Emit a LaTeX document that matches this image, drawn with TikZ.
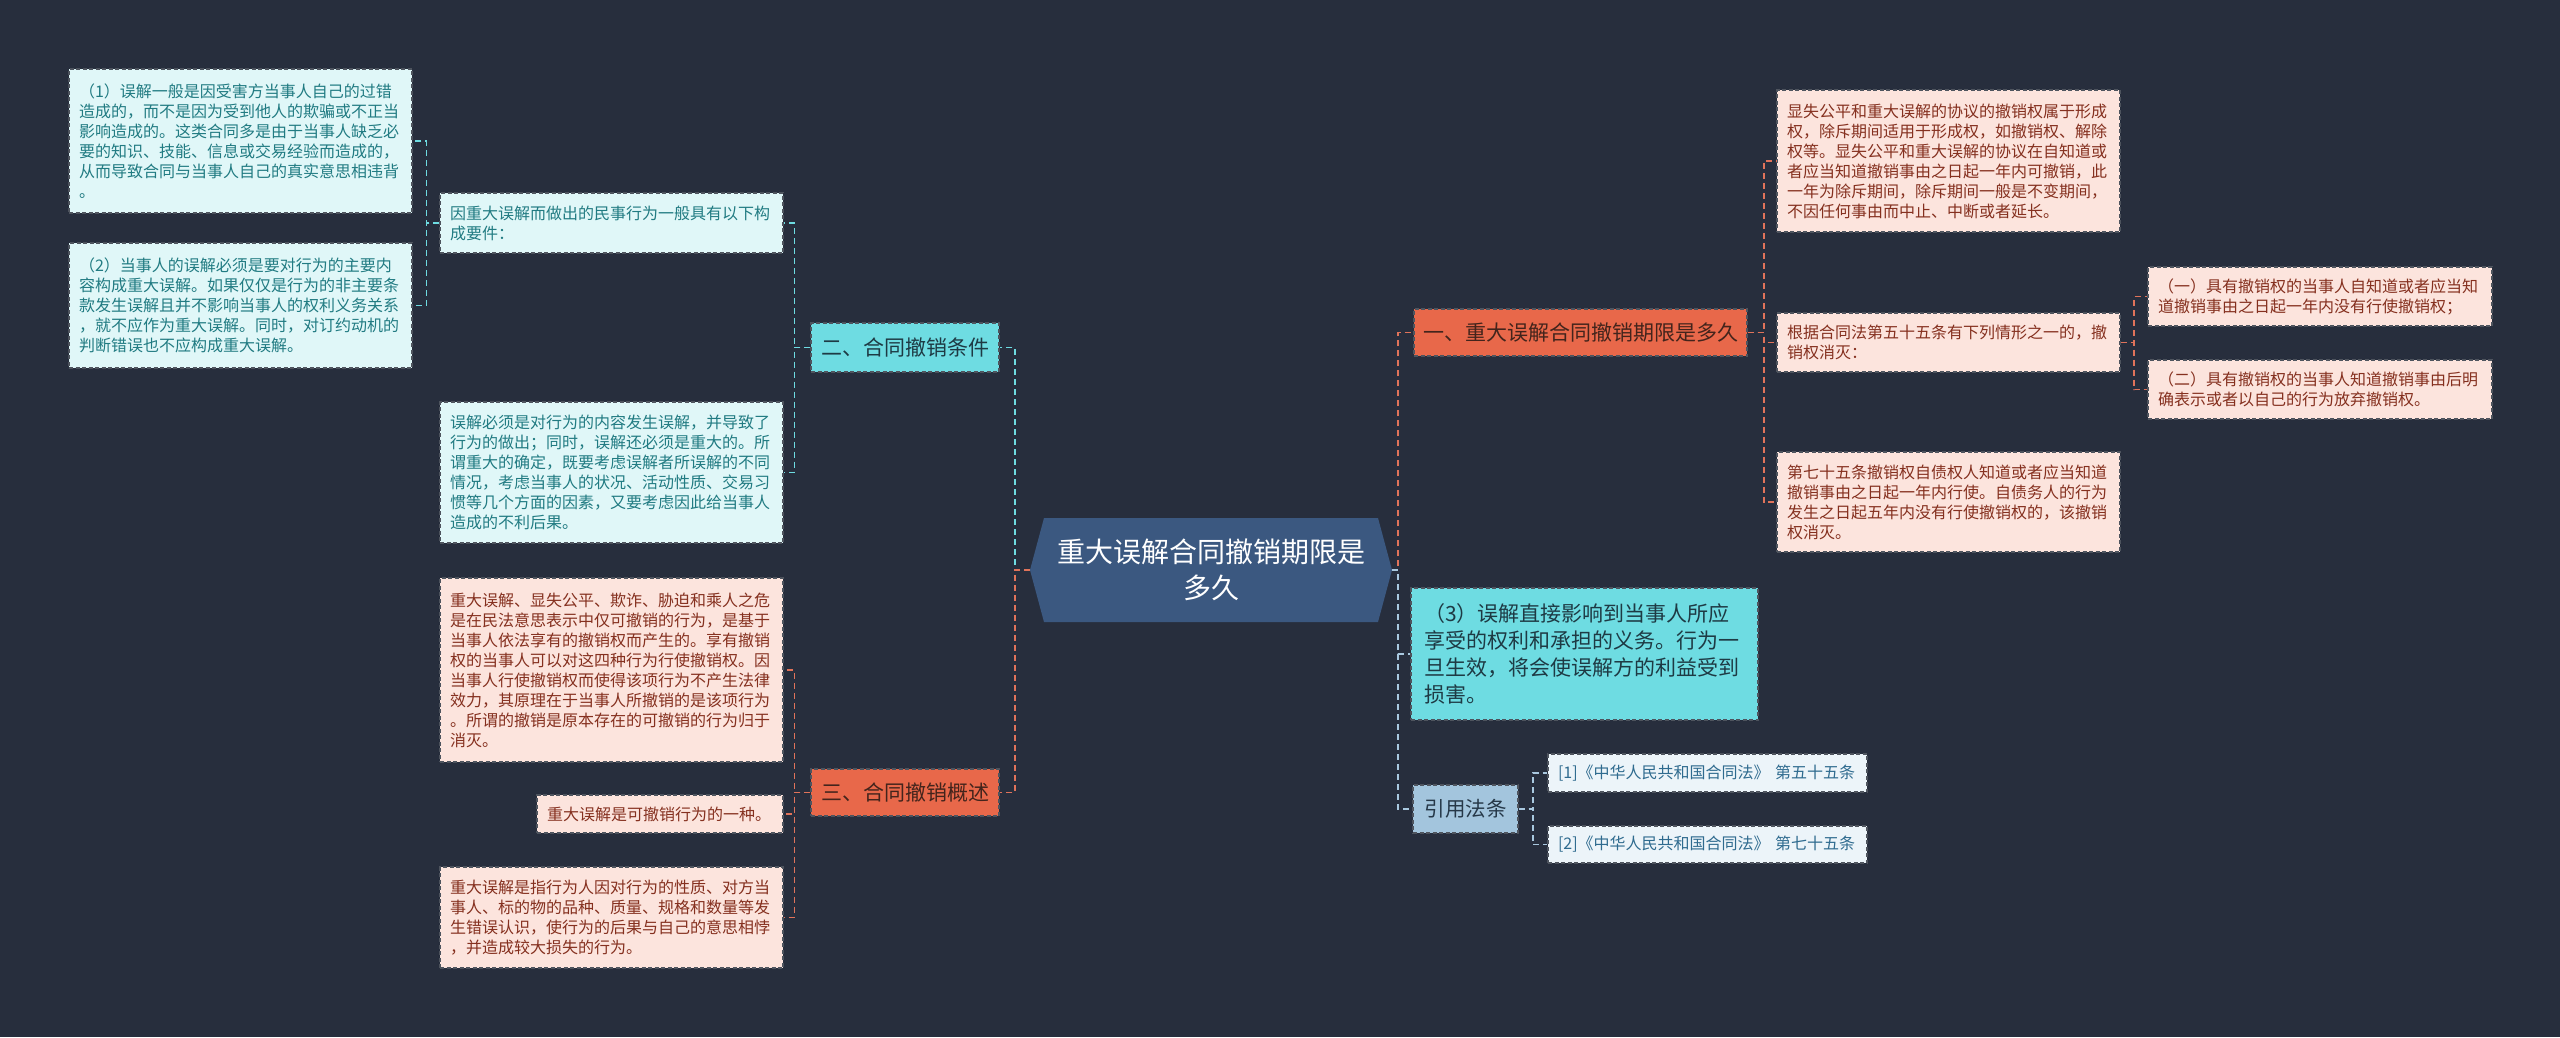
\documentclass[tikz,border=0pt]{standalone}
\usepackage{fontspec}
\newfontfamily\cjk{Noto Sans CJK SC}
\definecolor{bg}{HTML}{272E3D}
\definecolor{centerfill}{HTML}{3B5880}
\definecolor{ofill}{HTML}{E8684A}
\definecolor{cfill}{HTML}{6EDCE2}
\definecolor{bfill}{HTML}{A3C5DD}
\definecolor{cleaffill}{HTML}{E0F7F8}
\definecolor{cleaftext}{HTML}{217B82}
\definecolor{pleaffill}{HTML}{FCE4DD}
\definecolor{pleaftext}{HTML}{85301F}
\definecolor{qfill}{HTML}{ECF4F9}
\definecolor{qtext}{HTML}{2F6B8F}
\definecolor{bord}{HTML}{4E545E}
\definecolor{otext}{HTML}{43241C}
\definecolor{ctext}{HTML}{1E3A44}
\definecolor{btext}{HTML}{263848}
\definecolor{oline}{HTML}{E0735A}
\definecolor{cline}{HTML}{6EDCE2}
\definecolor{bline}{HTML}{A9C8DF}
\tikzset{
  box/.style={draw=bord, dash pattern=on 4pt off 2.5pt, line width=1.2pt, inner xsep=10pt, inner ysep=0pt, font=\cjk\fontsize{16}{20}\selectfont, align=left},
  cleaf/.style={box, fill=cleaffill, text=cleaftext},
  pleaf/.style={box, fill=pleaffill, text=pleaftext},
  qleaf/.style={box, fill=qfill, text=qtext},
  branch/.style={draw=bord, dash pattern=on 4pt off 2.5pt, line width=1.2pt, inner sep=0pt, font=\cjk\fontsize{21}{27}\selectfont, align=center},
  conn/.style={dash pattern=on 6pt off 4pt, line width=1.8pt},
  ocon/.style={conn, draw=oline},
  ccon/.style={conn, draw=cline},
  bcon/.style={conn, draw=bline},
}
\begin{document}
\begin{tikzpicture}[x=1pt,y=-1pt]
\fill[bg] (0,0) rectangle (2560,1037);
\useasboundingbox (0,0) rectangle (2560,1037);

% center
\fill[centerfill] (1030,570) -- (1044,518) -- (1378,518) -- (1392,570) -- (1378,622) -- (1044,622) -- cycle;
\node[minimum width=362pt, minimum height=104pt, inner sep=0pt, text=white, align=center, font=\cjk\fontsize{28}{36}\selectfont] (c) at (1211,570) {重大误解合同撤销期限是\\多久};

% branches
\node[branch, fill=ofill, text=otext, minimum width=333pt, minimum height=47pt] (b1) at (1580.5,332.5) {一、重大误解合同撤销期限是多久};
\node[branch, fill=cfill, text=ctext, minimum width=188pt, minimum height=49pt] (b2) at (905,347.5) {二、合同撤销条件};
\node[branch, fill=ofill, text=otext, minimum width=188pt, minimum height=47pt] (b4) at (905,792.5) {三、合同撤销概述};
\node[branch, fill=cfill, text=ctext, minimum width=347pt, minimum height=132pt, text width=321pt, inner xsep=13pt, align=left] (b3) at (1584.5,654) {（3）误解直接影响到当事人所应\\享受的权利和承担的义务。行为一\\旦生效，将会使误解方的利益受到\\损害。};
\node[branch, fill=bfill, text=btext, minimum width=105pt, minimum height=48pt, font=\cjk\fontsize{20.5}{26}\selectfont] (cite) at (1465.5,809) {引用法条};

% left leaves
\node[cleaf, text width=323pt, minimum height=144pt] (l1) at (240.5,141) {（1）误解一般是因受害方当事人自己的过错\\造成的，而不是因为受到他人的欺骗或不正当\\影响造成的。这类合同多是由于当事人缺乏必\\要的知识、技能、信息或交易经验而造成的，\\从而导致合同与当事人自己的真实意思相违背\\。};
\node[cleaf, text width=323pt, minimum height=125pt] (l2) at (240.5,305.5) {（2）当事人的误解必须是要对行为的主要内\\容构成重大误解。如果仅仅是行为的非主要条\\款发生误解且并不影响当事人的权利义务关系\\，就不应作为重大误解。同时，对订约动机的\\判断错误也不应构成重大误解。};
\node[cleaf, text width=323pt, minimum height=60pt] (p1) at (611.5,223) {因重大误解而做出的民事行为一般具有以下构\\成要件：};
\node[cleaf, text width=323pt, minimum height=141pt] (p2) at (611.5,472.5) {误解必须是对行为的内容发生误解，并导致了\\行为的做出；同时，误解还必须是重大的。所\\谓重大的确定，既要考虑误解者所误解的不同\\情况，考虑当事人的状况、活动性质、交易习\\惯等几个方面的因素，又要考虑因此给当事人\\造成的不利后果。};
\node[pleaf, text width=323pt, minimum height=184pt] (p3) at (611.5,670) {重大误解、显失公平、欺诈、胁迫和乘人之危\\是在民法意思表示中仅可撤销的行为，是基于\\当事人依法享有的撤销权而产生的。享有撤销\\权的当事人可以对这四种行为行使撤销权。因\\当事人行使撤销权而使得该项行为不产生法律\\效力，其原理在于当事人所撤销的是该项行为\\。所谓的撤销是原本存在的可撤销的行为归于\\消灭。};
\node[pleaf, text width=226pt, minimum height=38pt] (p4) at (660,814) {重大误解是可撤销行为的一种。};
\node[pleaf, text width=323pt, minimum height=101pt] (p5) at (611.5,917.5) {重大误解是指行为人因对行为的性质、对方当\\事人、标的物的品种、质量、规格和数量等发\\生错误认识，使行为的后果与自己的意思相悖\\，并造成较大损失的行为。};

% right leaves
\node[pleaf, text width=323pt, minimum height=142pt] (r1) at (1948.5,161) {显失公平和重大误解的协议的撤销权属于形成\\权，除斥期间适用于形成权，如撤销权、解除\\权等。显失公平和重大误解的协议在自知道或\\者应当知道撤销事由之日起一年内可撤销，此\\一年为除斥期间，除斥期间一般是不变期间，\\不因任何事由而中止、中断或者延长。};
\node[pleaf, text width=323pt, minimum height=59pt] (r2) at (1948.5,342.5) {根据合同法第五十五条有下列情形之一的，撤\\销权消灭：};
\node[pleaf, text width=323pt, minimum height=100pt] (r3) at (1948.5,502) {第七十五条撤销权自债权人知道或者应当知道\\撤销事由之日起一年内行使。自债务人的行为\\发生之日起五年内没有行使撤销权的，该撤销\\权消灭。};
\node[pleaf, text width=324pt, minimum height=59pt] (r2a) at (2320,296.5) {（一）具有撤销权的当事人自知道或者应当知\\道撤销事由之日起一年内没有行使撤销权；};
\node[pleaf, text width=324pt, minimum height=59pt] (r2b) at (2320,389.5) {（二）具有撤销权的当事人知道撤销事由后明\\确表示或者以自己的行为放弃撤销权。};
\node[qleaf, text width=299pt, minimum height=38pt] (q1) at (1707.5,773) {[1]《中华人民共和国合同法》 第五十五条};
\node[qleaf, text width=299pt, minimum height=37pt] (q2) at (1707.5,844.5) {[2]《中华人民共和国合同法》 第七十五条};

% connectors from center
\draw[ocon] (c.east) -- ++(6,0) |- (b1.west);
\draw[bcon] (c.east) -- ++(6,0) |- (b3.west);
\draw[bcon] (c.east) -- ++(6,0) |- (cite.west);
\draw[ccon] (c.west) -- ++(-15,0) |- (b2.east);
\draw[ocon] (c.west) -- ++(-15,0) |- (b4.east);

% left side
\draw[ccon] (b2.west) -- ++(-16,0) |- (p1.east);
\draw[ccon] (b2.west) -- ++(-16,0) |- (p2.east);
\draw[ccon] (p1.west) -- ++(-13,0) |- (l1.east);
\draw[ccon] (p1.west) -- ++(-13,0) |- (l2.east);
\draw[ocon] (b4.west) -- ++(-16,0) |- (p3.east);
\draw[ocon] (b4.west) -- ++(-16,0) |- (p4.east);
\draw[ocon] (b4.west) -- ++(-16,0) |- (p5.east);

% right side
\draw[ocon] (b1.east) -- ++(16,0) |- (r1.west);
\draw[ocon] (b1.east) -- ++(16,0) |- (r2.west);
\draw[ocon] (b1.east) -- ++(16,0) |- (r3.west);
\draw[ocon] (r2.east) -- ++(13,0) |- (r2a.west);
\draw[ocon] (r2.east) -- ++(13,0) |- (r2b.west);
\draw[bcon] (cite.east) -- ++(14,0) |- (q1.west);
\draw[bcon] (cite.east) -- ++(14,0) |- (q2.west);
\end{tikzpicture}
\end{document}
